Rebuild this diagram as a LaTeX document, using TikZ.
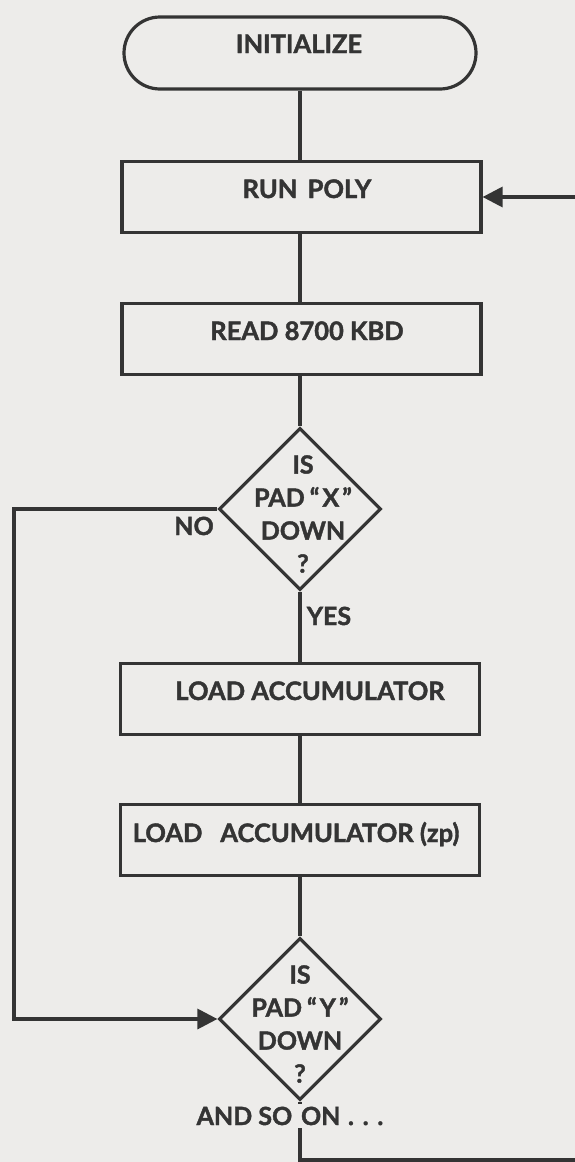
\documentclass[tikz,border=0pt]{standalone}
\usepackage{fontspec}
\setmainfont{Lato}[BoldFeatures={FakeBold=1.6}]
\usetikzlibrary{shapes.geometric,shapes.misc,arrows.meta}
\definecolor{paper}{RGB}{237,236,234}
\definecolor{ink}{RGB}{52,52,52}
\begin{document}
\begin{tikzpicture}[x=1pt,y=-1pt,
  line width=3.2pt,
  every node/.style={inner sep=0pt},
  termbox/.style={draw=ink,rounded rectangle,minimum width=352pt,minimum height=72pt},
  procbox/.style={draw=ink,rectangle,minimum width=359pt,minimum height=71pt},
  decbox/.style={draw=ink,diamond,minimum width=162pt,minimum height=162pt},
  boxtext/.style={text=ink,font=\bfseries\fontsize{25.5}{30}\selectfont,anchor=base},
  dectext/.style={text=ink,font=\bfseries\fontsize{25}{33}\selectfont,align=center},
  smalltext/.style={text=ink,font=\bfseries\fontsize{25}{30}\selectfont,anchor=base},
  conn/.style={draw=ink},
  arr/.style={draw=ink,-{Triangle[length=20pt,width=20pt]}}
]
\fill[paper] (0,0) rectangle (575,1162);
\useasboundingbox (0,0) rectangle (575,1162);

% shapes
\node[termbox] (init) at (300,53) {};
\node[procbox] (run) at (301.5,197) {};
\node[procbox] (read) at (301.5,339) {};
\node[decbox] (decX) at (300,509) {};
\node[procbox] (acc) at (300,699) {};
\node[procbox] (acczp) at (300,840) {};
\node[decbox] (decY) at (300,1019) {};

% texts
\node[boxtext] (tinit) at (299,53) {INITIALIZE};
\node[boxtext] (trun) at (307,198) {RUN\hspace{0.4em}POLY};
\node[boxtext] (tread) at (307,340) {READ 8700 KBD};
\node[boxtext] (tacc) at (310,700) {LOAD ACCUMULATOR};
\node[boxtext] (tacczp) at (296,842) {LOAD\hspace{0.7em}ACCUMULATOR (zp)};
\node[dectext] (tdecX) at (303,514) {IS\\PAD\hspace{0.2em}“\hspace{0.12em}X\hspace{0.12em}”\\DOWN\\?};
\node[dectext] (tdecY) at (300,1024) {IS\\PAD\hspace{0.2em}“\hspace{0.12em}Y\hspace{0.12em}”\\DOWN\\?};
\node[smalltext] (tno) at (194,535) {NO};
\node[smalltext] (tyes) at (329,625) {YES};

% connectors
\coordinate (leftX) at (14,509);
\coordinate (leftY) at (14,1019);
\coordinate (botY) at (300,1160);
\coordinate (botR) at (575,1160);
\coordinate (rightR) at (575,197);

\draw[conn] (init.south) -- (init.south |- run.north);
\draw[conn] (init.south |- run.south) -- (init.south |- read.north);
\draw[conn] (init.south |- read.south) -- (decX.north);
\draw[conn] (decX.south) -- (acc.north);
\draw[conn] (acc.south) -- (acczp.north);
\draw[conn] (acczp.south) -- (decY.north);
\draw[arr] (decX.west) -- (leftX) -- (leftY) -- (decY.west);
\draw[conn] (decY.south) -- (botY) -- (botR);
\draw[arr] (rightR) -- (run.east);

\node[smalltext,anchor=base west,fill=paper,inner sep=3pt] (tand) at (192,1125) {AND SO\hspace{0.35em}ON\hspace{0.3em}.\hspace{0.35em}.\hspace{0.35em}.};
\end{tikzpicture}
\end{document}
